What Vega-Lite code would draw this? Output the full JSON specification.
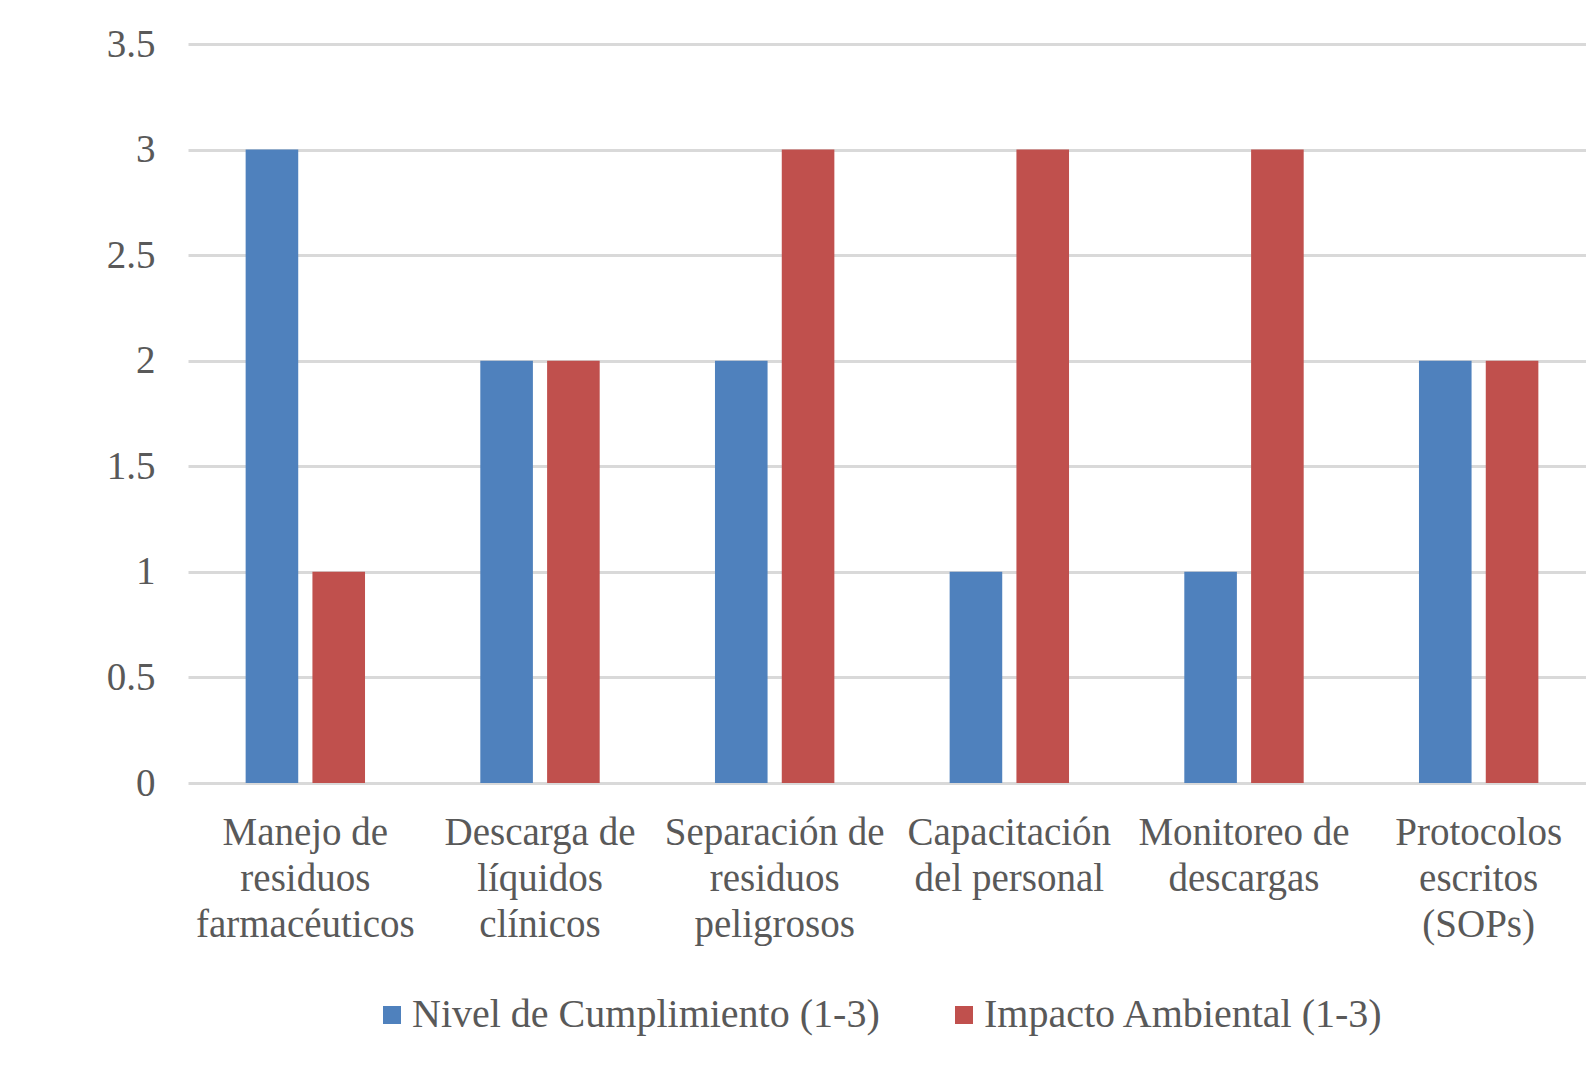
{
  "$schema": "https://vega.github.io/schema/vega-lite/v6.json",
  "autosize": {"type": "none"},
  "padding": {"left": 188, "top": 44, "right": 0, "bottom": 283},
  "width": 1398,
  "height": 739,
  "background": "white",
  "config": {"view": {"stroke": null}, "font": "Liberation Serif"},
  "data": {
    "values": [
      {"categoria": "Manejo de residuos farmacéuticos", "serie": "Nivel de Cumplimiento (1-3)", "valor": 3},
      {"categoria": "Manejo de residuos farmacéuticos", "serie": "Impacto Ambiental (1-3)", "valor": 1},
      {"categoria": "Descarga de líquidos clínicos", "serie": "Nivel de Cumplimiento (1-3)", "valor": 2},
      {"categoria": "Descarga de líquidos clínicos", "serie": "Impacto Ambiental (1-3)", "valor": 2},
      {"categoria": "Separación de residuos peligrosos", "serie": "Nivel de Cumplimiento (1-3)", "valor": 2},
      {"categoria": "Separación de residuos peligrosos", "serie": "Impacto Ambiental (1-3)", "valor": 3},
      {"categoria": "Capacitación del personal", "serie": "Nivel de Cumplimiento (1-3)", "valor": 1},
      {"categoria": "Capacitación del personal", "serie": "Impacto Ambiental (1-3)", "valor": 3},
      {"categoria": "Monitoreo de descargas", "serie": "Nivel de Cumplimiento (1-3)", "valor": 1},
      {"categoria": "Monitoreo de descargas", "serie": "Impacto Ambiental (1-3)", "valor": 3},
      {"categoria": "Protocolos escritos (SOPs)", "serie": "Nivel de Cumplimiento (1-3)", "valor": 2},
      {"categoria": "Protocolos escritos (SOPs)", "serie": "Impacto Ambiental (1-3)", "valor": 2}
    ]
  },
  "mark": {"type": "bar"},
  "encoding": {
    "x": {
      "field": "categoria",
      "type": "nominal",
      "sort": null,
      "scale": {"range": [0, 1408], "paddingInner": 0, "paddingOuter": 0},
      "axis": {
        "title": null,
        "labelAngle": 0,
        "labelFont": "Liberation Serif",
        "labelFontSize": 39,
        "labelColor": "#595959",
        "labelLineHeight": 46,
        "labelPadding": 30,
        "labelLimit": 400,
        "ticks": false,
        "domain": false,
        "grid": false,
        "labelExpr": "datum.value == 'Manejo de residuos farmacéuticos' ? ['Manejo de', 'residuos', 'farmacéuticos'] : datum.value == 'Descarga de líquidos clínicos' ? ['Descarga de', 'líquidos', 'clínicos'] : datum.value == 'Separación de residuos peligrosos' ? ['Separación de', 'residuos', 'peligrosos'] : datum.value == 'Capacitación del personal' ? ['Capacitación', 'del personal'] : datum.value == 'Monitoreo de descargas' ? ['Monitoreo de', 'descargas'] : ['Protocolos', 'escritos', '(SOPs)']"
      }
    },
    "xOffset": {
      "field": "serie",
      "type": "nominal",
      "sort": ["Nivel de Cumplimiento (1-3)", "Impacto Ambiental (1-3)"],
      "scale": {"paddingInner": 0.2126, "paddingOuter": 0.863}
    },
    "y": {
      "field": "valor",
      "type": "quantitative",
      "scale": {"domain": [0, 3.5], "nice": false},
      "axis": {
        "title": null,
        "values": [0, 0.5, 1, 1.5, 2, 2.5, 3, 3.5],
        "format": "~g",
        "grid": true,
        "gridColor": "#D9D9D9",
        "gridWidth": 3,
        "domain": false,
        "ticks": false,
        "labelFont": "Liberation Serif",
        "labelFontSize": 39,
        "labelColor": "#595959",
        "labelPadding": 33
      }
    },
    "color": {
      "field": "serie",
      "type": "nominal",
      "sort": ["Nivel de Cumplimiento (1-3)", "Impacto Ambiental (1-3)"],
      "scale": {"range": ["#4F81BD", "#C0504D"]},
      "legend": {
        "title": null,
        "orient": "none",
        "legendX": 184,
        "legendY": 951,
        "direction": "horizontal",
        "symbolType": "square",
        "symbolSize": 324,
        "symbolStrokeWidth": 0,
        "symbolOpacity": 1,
        "labelFont": "Liberation Serif",
        "labelFontSize": 40,
        "labelColor": "#595959",
        "labelOffset": 0,
        "labelLimit": 600,
        "columnPadding": 64
      }
    }
  }
}
